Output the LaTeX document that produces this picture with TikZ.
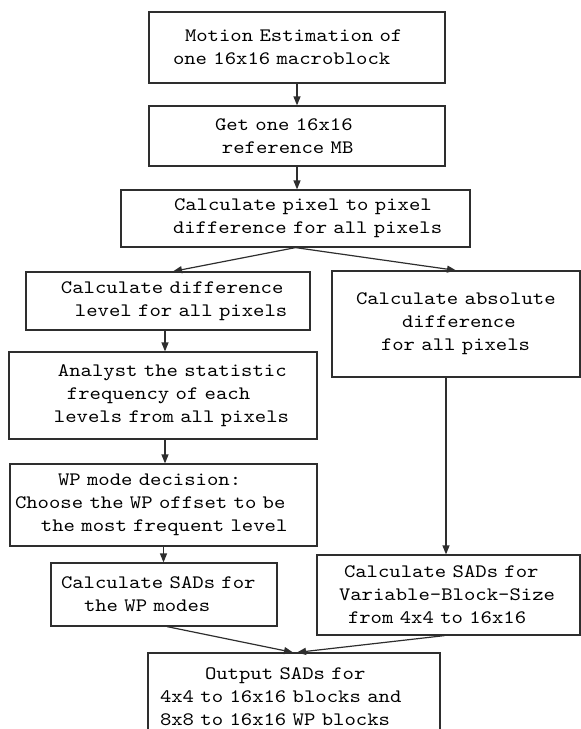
\documentclass[tikz,border=0pt]{standalone}
\usepackage{fontspec}
\usetikzlibrary{arrows.meta,calc}
\newfontfamily\cour[FakeStretch=1.14]{lmmono10-regular.otf}
\definecolor{ink}{HTML}{2E2E2E}
\begin{document}
\begin{tikzpicture}[x=1pt,y=-1pt,
  box/.style={draw=ink, line width=1.2pt, inner sep=0pt, align=left,
    font=\cour\fontsize{19}{23}\selectfont, text=black},
  conn/.style={draw=ink, line width=1.2pt, -{Triangle[length=9pt,width=7pt]}}]
\useasboundingbox (0,0) rectangle (581,729);
\clip (0,0) rectangle (581,729);
\node[box, text width=296pt, minimum height=71pt] (b1) at (297,47.5)
  {\hspace*{36pt}Motion Estimation of\\\hspace*{24pt}one 16x16 macroblock};
\node[box, text width=296pt, minimum height=60pt] (b2) at (297,136)
  {\hspace*{66pt}Get one 16x16\\\hspace*{73pt}reference MB};
\node[box, text width=349pt, minimum height=57pt] (b3) at (295.5,218.5)
  {\hspace*{53pt}Calculate pixel to pixel\\\hspace*{52pt}difference for all pixels};
\node[box, text width=284pt, minimum height=58pt] (l1) at (168,301)
  {\hspace*{35pt}Calculate difference\\\hspace*{49pt}level for all pixels};
\node[box, text width=248pt, minimum height=106pt] (r1) at (456,324)
  {\hspace*{24pt}Calculate absolute\\\hspace*{70pt}difference\\\hspace*{49pt}for all pixels};
\node[box, text width=308pt, minimum height=87pt] (l2) at (163,395.5)
  {\hspace*{49pt}Analyst the statistic\\\hspace*{58pt}frequency of each\\\hspace*{45pt}levels from all pixels};
\node[box, text width=307pt, minimum height=82pt] (l3) at (163.5,505)
  {\hspace*{48pt}WP mode decision:\\\hspace*{5pt}Choose the WP offset to be\\\hspace*{31pt}the most frequent level};
\node[box, text width=226pt, minimum height=63pt] (l4) at (164,594.5)
  {\hspace*{10pt}Calculate SADs for\\\hspace*{33pt}the WP modes};
\node[box, text width=263pt, minimum height=80pt] (r2) at (448.5,595)
  {\hspace*{27pt}Calculate SADs for\\\hspace*{22pt}Variable-Block-Size\\\hspace*{31pt}from 4x4 to 16x16};
\node[box, text width=292pt, minimum height=87pt] (out) at (294,696.5)
  {\hspace*{57pt}Output SADs for\\\hspace*{12pt}4x4 to 16x16 blocks and\\\hspace*{12pt}8x8 to 16x16 WP blocks};
\draw[conn] (b1.south) -- (b2.north);
\draw[conn] (b2.south) -- (b2.south |- b3.north);
\draw[conn] (b3.south) -- ([xshift=5pt]l1.north);
\draw[conn] (b3.south) -- (r1.north);
\draw[conn] ([xshift=-3pt]l1.south) -- ([xshift=-3pt]l1.south |- l2.north);
\draw[conn] ([xshift=2pt]l2.south) -- ([xshift=2pt]l2.south |- l3.north);
\draw[conn] (l3.south) -- (l3.south |- l4.north);
\draw[conn] ([xshift=-10pt]r1.south) -- ([xshift=-10pt]r1.south |- r2.north);
\draw[conn] ([xshift=3pt]l4.south) -- ([xshift=-1pt]out.north);
\draw[conn] ([xshift=-4pt]r2.south) -- ([xshift=3pt]out.north);
\end{tikzpicture}
\end{document}
